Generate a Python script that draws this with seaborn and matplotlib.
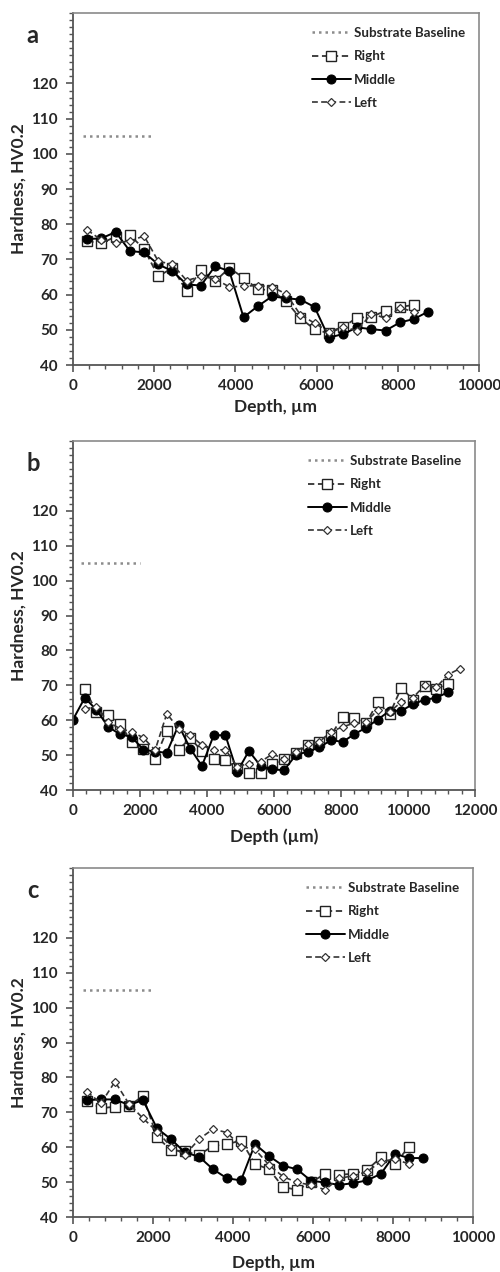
import matplotlib
matplotlib.use("Agg")
import matplotlib.pyplot as plt
import seaborn as sns
import numpy as np
from matplotlib.ticker import MultipleLocator

# ---- data ----
baseline_depth = [250, 2000]
baseline_hv = [105, 105]

# panel a
a_depth_mid = [350, 700, 1050, 1400, 1750, 2100, 2450, 2800, 3150, 3500, 3850, 4200, 4550,
               4900, 5250, 5600, 5950, 6300, 6650, 7000, 7350, 7700, 8050, 8400, 8750]
a_mid = [75.8, 76.0, 77.8, 72.4, 72.0, 68.6, 66.7, 62.9, 62.6, 68.1, 66.7, 53.6, 56.7,
         59.5, 59.0, 58.6, 56.5, 47.8, 48.8, 50.7, 50.2, 49.8, 52.1, 53.1, 55.2]
a_depth_side = a_depth_mid[:24]
a_right = [75.2, 74.6, 76.5, 76.9, 73.0, 65.2, 67.6, 61.0, 67.0, 63.8, 67.6, 64.8, 61.6,
           61.2, 58.1, 53.3, 50.2, 49.0, 50.8, 53.5, 53.6, 55.5, 56.5, 57.1]
a_left = [78.4, 75.5, 74.8, 75.2, 76.7, 69.5, 68.6, 64.0, 65.2, 64.5, 62.2, 62.4, 62.6,
          62.2, 60.2, 54.3, 51.9, 49.5, 50.8, 49.8, 54.6, 53.3, 56.2, 55.2]

# panel b
b_depth_mid = [0, 350, 700, 1050, 1400, 1750, 2100, 2450, 2800, 3150, 3500, 3850, 4200,
               4550, 4900, 5250, 5600, 5950, 6300, 6650, 7000, 7350, 7700, 8050, 8400,
               8750, 9100, 9450, 9800, 10150, 10500, 10850, 11200]
b_mid = [60.2, 66.4, 63.0, 58.1, 56.0, 55.2, 51.6, 51.0, 50.7, 58.6, 51.9, 46.9, 55.7,
         55.7, 45.2, 51.2, 46.9, 45.9, 45.7, 50.0, 51.0, 52.2, 54.3, 53.8, 56.0,
         57.9, 60.2, 62.7, 62.7, 64.6, 65.9, 66.4, 68.1]
b_depth_right = b_depth_mid[1:]
b_right = [69.0, 62.4, 61.4, 59.0, 53.8, 51.9, 49.0, 57.0, 51.6, 54.8, 51.2, 49.0,
           48.6, 46.2, 45.0, 45.0, 47.4, 48.8, 50.5, 52.9, 53.8, 55.7, 61.0, 60.5,
           59.2, 65.2, 61.7, 69.3, 65.9, 69.7, 69.0, 70.5]
b_depth_left = b_depth_mid[1:] + [11550]
b_left = [63.3, 63.8, 59.5, 57.6, 56.7, 55.0, 51.4, 61.9, 57.6, 55.7, 52.9, 51.4,
          51.6, 46.7, 47.6, 48.1, 50.3, 49.0, 51.0, 53.1, 53.8, 56.7, 58.1, 59.2,
          59.5, 63.0, 62.4, 65.2, 66.5, 70.0, 69.5, 73.1, 74.8]

# panel c
c_depth_mid = a_depth_mid
c_mid = [73.5, 73.7, 73.7, 72.1, 73.5, 65.4, 62.3, 58.5, 57.3, 53.7, 51.1, 50.5, 60.9,
         57.5, 54.7, 53.7, 50.4, 49.9, 49.2, 49.7, 50.5, 52.4, 58.1, 56.9, 56.9]
c_depth_side = a_depth_side
c_right = [73.3, 71.2, 71.6, 71.8, 74.7, 62.9, 59.2, 58.8, 57.8, 60.4, 60.9, 61.9,
           55.2, 53.7, 48.6, 47.8, 49.9, 52.4, 52.1, 52.4, 53.5, 57.1, 55.2, 60.2]
c_left = [75.9, 72.6, 78.8, 72.4, 68.3, 64.5, 60.2, 57.8, 62.3, 65.2, 64.2, 60.2,
          59.4, 54.9, 51.6, 49.9, 49.2, 47.8, 51.1, 51.8, 53.0, 55.9, 56.6, 55.2]

panels = [
    ("a", a_depth_side, a_right, a_depth_mid, a_mid, a_depth_side, a_left, 10000, "Depth, µm"),
    ("b", b_depth_right, b_right, b_depth_mid, b_mid, b_depth_left, b_left, 12000, "Depth (µm)"),
    ("c", c_depth_side, c_right, c_depth_mid, c_mid, c_depth_side, c_left, 10000, "Depth, µm"),
]

sns.set_theme(style="white")
plt.rcParams["font.family"] = ["Lato", "DejaVu Sans"]
plt.rcParams["font.weight"] = "bold"

fig = plt.figure(figsize=(5, 12.72), dpi=100)

# axes boxes in figure fractions: left, bottom, width, height
boxes = [
    (0.146, 0.7130, 0.812, 0.2767),
    (0.146, 0.3789, 0.804, 0.2744),
    (0.146, 0.0432, 0.800, 0.2744),
]
xlabel_y = [-0.097, -0.110, -0.108]

for (letter, dr, right, dm, mid, dl, left, xmax, xlab), box, xly in zip(panels, boxes, xlabel_y):
    ax = fig.add_axes(box)

    sns.lineplot(x=baseline_depth, y=baseline_hv, ax=ax, color="#8c8c8c",
                 linestyle=(0, (1, 1.6)), linewidth=1.8, label="Substrate Baseline")
    sns.lineplot(x=dr, y=right, ax=ax, color="#333333", linestyle=(0, (3.5, 2)),
                 linewidth=1.3, marker="s", markersize=7, markerfacecolor="white",
                 markeredgecolor="#222222", markeredgewidth=1.0, label="Right")
    sns.lineplot(x=dm, y=mid, ax=ax, color="black", linestyle="-", linewidth=1.4,
                 marker="o", markersize=6.5, markerfacecolor="black",
                 markeredgecolor="black", label="Middle")
    sns.lineplot(x=dl, y=left, ax=ax, color="#333333", linestyle=(0, (3.5, 2)),
                 linewidth=1.2, marker="D", markersize=4.2, markerfacecolor="white",
                 markeredgecolor="#333333", markeredgewidth=0.9, label="Left")

    ax.set_xlim(0, xmax)
    ax.set_ylim(40, 140)
    ax.set_yticks(np.arange(40, 121, 10))
    ax.set_xticks(np.arange(0, xmax + 1, 2000))
    ax.yaxis.set_minor_locator(MultipleLocator(2))
    ax.xaxis.set_minor_locator(MultipleLocator(400))
    ax.tick_params(axis="both", which="major", direction="out", length=5, width=1.2,
                   color="#555555", labelsize=11, bottom=True, left=True)
    ax.tick_params(axis="y", which="major", pad=6)
    ax.tick_params(axis="x", which="major", pad=5)
    ax.tick_params(axis="both", which="minor", direction="out", length=3, width=1.0,
                   color="#555555", bottom=True, left=True)
    for lab in ax.get_xticklabels() + ax.get_yticklabels():
        lab.set_fontweight("bold")

    for side in ["top", "right"]:
        ax.spines[side].set_color("#8a8a8a")
        ax.spines[side].set_linewidth(1.2)
    for side in ["left", "bottom"]:
        ax.spines[side].set_color("#555555")
        ax.spines[side].set_linewidth(1.3)

    ax.set_ylabel("Hardness, HV0.2", fontsize=12.5, fontweight="bold")
    ax.yaxis.set_label_coords(-0.115, 0.5)
    ax.set_xlabel(xlab, fontsize=12.5, fontweight="bold")
    ax.xaxis.set_label_coords(0.5, xly)

    ax.text(-0.10, 0.935, letter, transform=ax.transAxes, fontsize=17,
            fontweight="bold", ha="center", va="center")

    leg = ax.legend(loc="upper right", bbox_to_anchor=(1.0, 1.0), frameon=False,
                    fontsize=9.6, handlelength=2.9, handletextpad=0.25,
                    labelspacing=0.85, borderaxespad=0.65)
    for t in leg.get_texts():
        t.set_fontweight("bold")

fig.savefig("out.png", dpi=100)
